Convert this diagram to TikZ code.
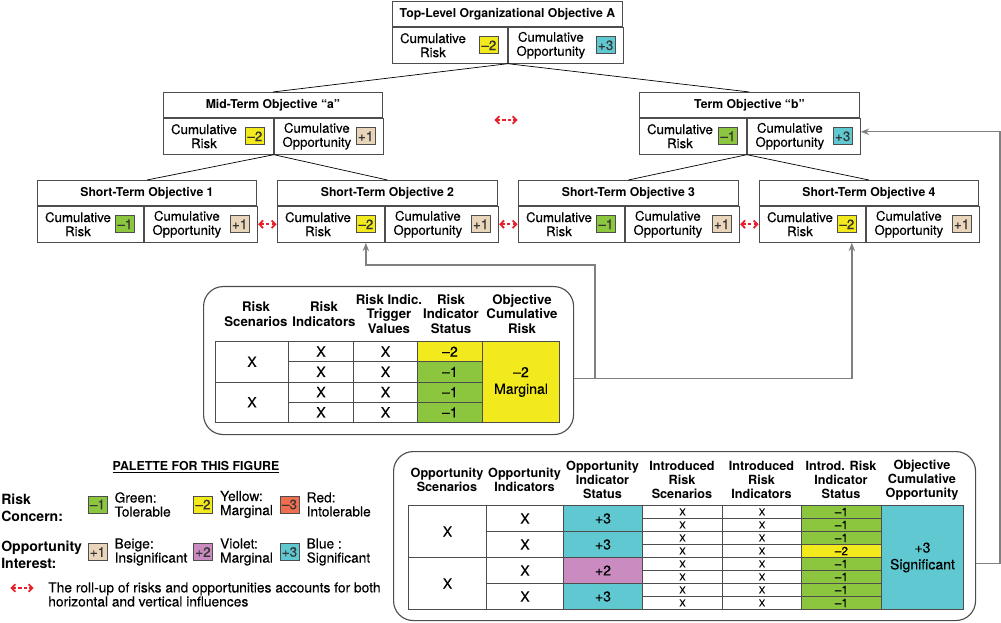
\documentclass[tikz,border=0pt]{standalone}
\usepackage{fontspec}
\setmainfont{TeX Gyre Heros}[UprightFeatures={FakeBold=0.25}]
\usetikzlibrary{arrows.meta,calc}

\definecolor{yel}{HTML}{F2EA1C}
\definecolor{grn}{HTML}{8CC63F}
\definecolor{bei}{HTML}{E9D5BA}
\definecolor{blu}{HTML}{5FC8D0}
\definecolor{vio}{HTML}{C98BC0}
\definecolor{rdc}{HTML}{F06D4F}
\definecolor{infred}{HTML}{E8202A}
\definecolor{frame}{HTML}{4D4D4D}
\definecolor{feedgray}{HTML}{808080}

\newcommand\pxl{0.025cm}

\begin{document}
\begin{tikzpicture}[x=\pxl, y=-\pxl,
  titlebox/.style={draw=frame, line width=0.6pt, minimum height=25*\pxl, inner sep=0, anchor=north west,
    font=\bfseries\fontsize{8.7}{10}\selectfont},
  objcell/.style={draw=frame, line width=0.6pt, minimum height=36*\pxl, inner sep=0, anchor=north west},
  lbl/.style={align=center, inner sep=0, font=\fontsize{9.4}{10}\selectfont},
  badge/.style={draw=frame, line width=0.5pt, minimum width=19*\pxl, minimum height=17*\pxl, inner sep=0,
    text=black!80, font=\fontsize{9.6}{10}\selectfont},
  tcell/.style={draw=frame, line width=0.7pt, inner sep=0, anchor=north west, align=center,
    font=\fontsize{10}{12}\selectfont},
  tiny/.style={font=\fontsize{6.8}{7}\selectfont},
  thead/.style={align=center, inner sep=0, font=\bfseries\fontsize{9.4}{10.4}\selectfont},
  panel/.style={draw=frame, line width=0.8pt, rounded corners=14pt, anchor=north west, inner sep=0},
  palhead/.style={align=left, inner sep=0, font=\bfseries\fontsize{10}{12}\selectfont},
  pallbl/.style={align=left, inner sep=0, font=\fontsize{9.8}{10}\selectfont},
  tree/.style={draw=black, line width=0.5pt},
  feed/.style={draw=feedgray, line width=1pt, -{Stealth[length=6pt,width=4.5pt]}},
  infl/.style={draw=infred, line width=1.3pt, dash pattern=on 2.4pt off 1.6pt, shorten <=0.3pt, shorten >=0.3pt,
    {Straight Barb[length=2.6pt,width=5.4pt]}-{Straight Barb[length=2.6pt,width=5.4pt]}}]
\useasboundingbox (0,0) rectangle (1001,623);

% objective boxes
\foreach \nm/\xx/\yy/\wr/\wo/\ttl/\rc/\rv/\oc/\ov in {
    top/392/1/115/115/Top-Level Organizational Objective A/yel/–2/blu/+3,
    mida/163/92/110/109/Mid-Term Objective “a”/yel/–2/bei/+1,
    termb/639/92/107/113/Term Objective “b”/grn/–1/blu/+3,
    st1/37/180/106/113/Short-Term Objective 1/grn/–1/bei/+1,
    st2/277/180/107/113/Short-Term Objective 2/yel/–2/bei/+1,
    st3/518/180/106/114/Short-Term Objective 3/grn/–1/bei/+1,
    st4/759/180/106/113/Short-Term Objective 4/yel/–2/bei/+1} {
  \node[titlebox, minimum width=(\wr+\wo)*\pxl] (\nm) at (\xx,\yy) {\ttl};
  \node[objcell, minimum width=\wr*\pxl] (\nm-r) at (\nm.south west) {};
  \node[objcell, minimum width=\wo*\pxl] (\nm-o) at (\nm-r.north east) {};
  \node[lbl] (\nm-rl) at ([xshift=41*\pxl]\nm-r.west) {Cumulative\\Risk};
  \node[badge, fill=\rc] (\nm-rb) at ([xshift=-19*\pxl]\nm-r.east) {\rv};
  \node[lbl] (\nm-ol) at ([xshift=43*\pxl]\nm-o.west) {Cumulative\\Opportunity};
  \node[badge, fill=\oc] (\nm-ob) at ([xshift=-18*\pxl]\nm-o.east) {\ov};
}

% roll-up tree
\draw[tree] (top-r.south east) -- (mida.north);
\draw[tree] (top-r.south east) -- (termb.north);
\draw[tree] (mida-r.south east) -- (st1.north);
\draw[tree] (mida-r.south east) -- (st2.north);
\draw[tree] (termb-r.south east) -- (st3.north);
\draw[tree] (termb-r.south east) -- (st4.north);

% horizontal influences
\draw[infl] (st1-o.east) -- (st2-r.west);
\draw[infl] (st2-o.east) -- (st3-r.west);
\draw[infl] (st3-o.east) -- (st4-r.west);
\coordinate (hml) at (494,120);
\coordinate (hmr) at (518,120);
\draw[infl] (hml) -- (hmr);

% risk table
\node[panel, minimum width=370*\pxl, minimum height=148*\pxl] (riskbox) at (203,286) {};
\foreach \cx/\hd [count=\i] in {256/Risk\\Scenarios, 324/Risk\\Indicators, 389/Risk Indic.\\Trigger\\Values,
    451/Risk\\Indicator\\Status, 522/Objective\\Cumulative\\Risk}
  \node[thead] (rh\i) at (\cx,314) {\hd};
\foreach \r in {0,1}
  \node[tcell, minimum width=73*\pxl, minimum height=40.5*\pxl] (rs\r) at (215,341+40.5*\r) {X};
\foreach \r/\c/\v in {0/yel/–2, 1/grn/–1, 2/grn/–1, 3/grn/–1} {
  \node[tcell, minimum width=65*\pxl, minimum height=20.25*\pxl] (ri\r) at (288,341+20.25*\r) {X};
  \node[tcell, minimum width=64*\pxl, minimum height=20.25*\pxl] (rt\r) at (353,341+20.25*\r) {X};
  \node[tcell, fill=\c, minimum width=65*\pxl, minimum height=20.25*\pxl] (rst\r) at (417,341+20.25*\r) {\v};
}
\node[tcell, fill=yel, minimum width=77*\pxl, minimum height=81*\pxl] (rcum) at (482,341) {–2\\Marginal};

% opportunity table
\node[panel, minimum width=582*\pxl, minimum height=169*\pxl] (oppbox) at (393,451) {};
\foreach \cx/\hd [count=\i] in {447/Opportunity\\Scenarios, 524.5/Opportunity\\Indicators,
    602.5/Opportunity\\Indicator\\Status, 682/Introduced\\Risk\\Scenarios, 761.5/Introduced\\Risk\\Indicators,
    841/Introd. Risk\\Indicator\\Status, 922/Objective\\Cumulative\\Opportunity}
  \node[thead, font=\bfseries\fontsize{9}{10}\selectfont] (oh\i) at (\cx,480) {\hd};
\foreach \r in {0,1}
  \node[tcell, minimum width=78*\pxl, minimum height=52*\pxl] (os\r) at (408,505+52*\r) {X};
\foreach \r/\c/\v in {0/blu/+3, 1/blu/+3, 2/vio/+2, 3/blu/+3} {
  \node[tcell, minimum width=77*\pxl, minimum height=26*\pxl] (oi\r) at (486,505+26*\r) {X};
  \node[tcell, fill=\c, minimum width=79*\pxl, minimum height=26*\pxl] (ost\r) at (563,505+26*\r) {\v};
}
\foreach \r/\c/\v in {0/grn/–1, 1/grn/–1, 2/grn/–1, 3/yel/–2, 4/grn/–1, 5/grn/–1, 6/grn/–1, 7/grn/–1} {
  \node[tcell, tiny, minimum width=80*\pxl, minimum height=13*\pxl] (irs\r) at (642,505+13*\r) {X};
  \node[tcell, tiny, minimum width=79*\pxl, minimum height=13*\pxl] (iri\r) at (722,505+13*\r) {X};
  \node[tcell, fill=\c, font=\fontsize{8.4}{8}\selectfont, minimum width=80*\pxl, minimum height=13*\pxl] (irst\r) at (801,505+13*\r) {\v};
}
\node[tcell, fill=blu, minimum width=82*\pxl, minimum height=104*\pxl] (ocum) at (881,505) {+3\\Significant};

% feedback into the objectives
\coordinate (bend2) at (595,265);
\draw[feed] ([yshift=-18*\pxl]riskbox.east) -| (bend2) -| ([xshift=-19*\pxl]st2-r.south east);
\draw[feed] ([yshift=-18*\pxl]riskbox.east) -| ([xshift=-14*\pxl]st4-r.south east);
\draw[feed] ([yshift=-27.5*\pxl]oppbox.east) -- ++(24,0) |- ([yshift=4.5*\pxl]termb-o.east);

% palette
\node[inner sep=0, font=\bfseries\fontsize{8.8}{10}\selectfont] (paltitle) at (196,467) {\underline{PALETTE FOR THIS FIGURE}};
\node[palhead, anchor=west] (riskcon) at (1,508) {Risk\\Concern:};
\node[palhead, anchor=west] (oppint) at (1,555) {Opportunity\\Interest:};
\foreach \nm/\xx/\yy/\c/\v/\tx in {pg/97.5/504.5/grn/–1/Green:\\Tolerable, py/203/504.5/yel/–2/Yellow:\\Marginal,
    pr/289.5/504.5/rdc/–3/Red:\\Intolerable, pb/97.5/552/bei/+1/Beige:\\Insignificant,
    pv/203/552/vio/+2/Violet:\\Marginal, pt/289.5/552/blu/+3/Blue :\\Significant} {
  \node[badge, fill=\c] (\nm) at (\xx,\yy) {\v};
  \node[pallbl, anchor=west] (\nm-t) at ([xshift=7*\pxl]\nm.east) {\tx};
}
\coordinate (lgl) at (10,588);
\coordinate (lgr) at (34,588);
\draw[infl] (lgl) -- (lgr);
\node[pallbl, anchor=west] (lgtxt) at (48,594.5) {The roll-up of risks and opportunities accounts for both\\horizontal and vertical influences};
\end{tikzpicture}
\end{document}
